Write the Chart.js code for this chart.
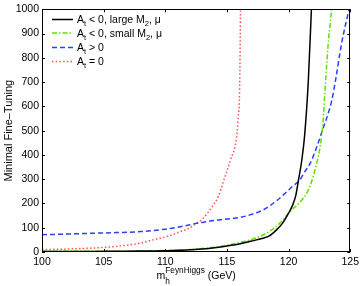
<!DOCTYPE html>
<html>
<head>
<meta charset="utf-8">
<script src="https://cdn.jsdelivr.net/npm/chart.js@4.4.1/dist/chart.umd.min.js"></script>
<style>
  html, body { margin: 0; padding: 0; background: #fff; }
  #wrap { width: 363px; height: 286px; }
</style>
</head>
<body>
<div id="wrap"><canvas id="ftChart" width="363" height="286"></canvas></div>
<script>
// values (GeV, fine-tuning)
var largeM2X = [100, 102, 104, 106, 108, 110, 111, 112, 113, 114, 115, 116, 117, 118, 118.4, 119, 119.5, 120, 120.3, 120.58, 120.8, 121.07, 121.3, 121.6, 121.85];
var largeM2Y = [2, 2, 2, 3, 4, 5, 7, 9, 12, 18, 25, 33, 45, 58, 65, 90, 118, 160, 190, 232, 296, 378, 480, 705, 1000];

var smallM2X = [100, 105, 110, 112, 114, 115, 116, 117, 118, 119, 119.5, 120, 120.5, 121, 121.5, 121.9, 122.3, 122.55, 122.8, 123.0, 123.25, 123.5];
var smallM2Y = [3, 3, 6, 10, 20, 28, 39, 52, 72, 105, 130, 160, 185, 210, 245, 296, 370, 432, 540, 705, 880, 1000];

var posAtX = [100, 102, 104, 106, 108, 110, 111, 112, 112.5, 113, 114, 115, 116, 117, 118, 119, 119.7, 120.3, 120.9, 121.3, 121.74, 122.28, 122.8, 123.2, 123.5, 123.8, 124.3, 124.9];
var posAtY = [71, 74, 77, 80, 84, 94, 102, 112, 118, 122, 130, 136, 142, 155, 175, 210, 241, 270, 296, 330, 364, 432, 510, 569, 624, 705, 860, 1000];

var zeroAtX = [100, 101, 102, 103, 104, 105, 106, 107, 108, 109, 110, 110.6, 111, 112, 112.5, 113, 113.8, 114.3, 114.75, 115.28, 115.74, 115.9, 116.04, 116.1];
var zeroAtY = [10, 11, 12, 14, 16, 19, 23, 29, 37, 50, 62, 71, 80, 100, 117, 135, 187, 228, 296, 378, 460, 541, 705, 1000];

var xTicks = [100, 105, 110, 115, 120, 125];
var yTicks = [0, 100, 200, 300, 400, 500, 600, 700, 800, 900, 1000];

// legend labels, pieces marked sub are subscripts
var legendLabels = [
  [['A'], ['t', 'sub'], [' < 0, large M'], ['2', 'sub'], [', \u03bc']],
  [['A'], ['t', 'sub'], [' < 0, small M'], ['2', 'sub'], [', \u03bc']],
  [['A'], ['t', 'sub'], [' > 0']],
  [['A'], ['t', 'sub'], [' = 0']]
];

function pts(xs, ys) {
  return xs.map(function (x, i) { return { x: x, y: ys[i] }; });
}

var FONT = '"Liberation Sans", Arial, Helvetica, sans-serif';

function drawRich(ctx, parts, x, y, size) {
  parts.forEach(function (p) {
    if (p[1] === 'sub') {
      ctx.font = (size * 0.72) + 'px ' + FONT;
      ctx.fillText(p[0], x, y + size * 0.3);
    } else {
      ctx.font = size + 'px ' + FONT;
      ctx.fillText(p[0], x, y);
    }
    x += ctx.measureText(p[0]).width;
  });
  return x;
}

var framePlugin = {
  id: 'frame',
  afterDatasetsDraw: function (chart) {
    var ctx = chart.ctx, a = chart.chartArea;
    var xs = chart.scales.x, ys = chart.scales.y;
    ctx.save();
    ctx.strokeStyle = '#000';
    ctx.lineWidth = 1;
    ctx.strokeRect(Math.round(a.left) + 0.5, Math.round(a.top) + 0.5,
      Math.round(a.right - a.left) - 1, Math.round(a.bottom - a.top) - 1);
    ctx.beginPath();
    xTicks.forEach(function (v) {
      var px = Math.round(xs.getPixelForValue(v)) + 0.5;
      ctx.moveTo(px, a.bottom); ctx.lineTo(px, a.bottom - 3);
      ctx.moveTo(px, a.top); ctx.lineTo(px, a.top + 3);
    });
    yTicks.forEach(function (v) {
      var py = Math.round(ys.getPixelForValue(v)) + 0.5;
      ctx.moveTo(a.left, py); ctx.lineTo(a.left + 3, py);
      ctx.moveTo(a.right, py); ctx.lineTo(a.right - 3, py);
    });
    ctx.stroke();

    // legend
    ctx.textBaseline = 'alphabetic';
    ctx.fillStyle = '#000';
    var rowY = [19.5, 33, 47.5, 61.5];
    chart.data.datasets.forEach(function (ds, i) {
      var y = rowY[i];
      ctx.save();
      ctx.strokeStyle = ds.borderColor;
      ctx.lineWidth = ds.borderWidth;
      ctx.setLineDash(ds.borderDash || []);
      ctx.beginPath();
      ctx.moveTo(52, y); ctx.lineTo(73, y);
      ctx.stroke();
      ctx.restore();
      drawRich(ctx, legendLabels[i], 77, y + 3.7, 10.5);
    });

    // axis titles
    ctx.font = '10.5px ' + FONT;
    var w = ctx.measureText('m').width;
    ctx.font = '8.3px ' + FONT;
    var w2 = ctx.measureText('FeynHiggs').width;
    ctx.font = '10.5px ' + FONT;
    var w3 = ctx.measureText(' (GeV)').width;
    var cx = (a.left + a.right) / 2;
    var x0 = cx - (w + w2 + w3) / 2;
    ctx.fillText('m', x0, 279);
    ctx.font = '8.3px ' + FONT;
    ctx.fillText('h', x0 + w, 284);
    ctx.fillText('FeynHiggs', x0 + w, 273);
    ctx.font = '10.5px ' + FONT;
    ctx.fillText(' (GeV)', x0 + w + w2, 279);

    ctx.save();
    ctx.translate(12, (a.top + a.bottom) / 2);
    ctx.rotate(-Math.PI / 2);
    ctx.textAlign = 'center';
    ctx.font = '11px ' + FONT;
    ctx.fillText('Minimal Fine\u2013Tuning', 0, 0);
    ctx.restore();
    ctx.restore();
  }
};

var ctx = document.getElementById('ftChart').getContext('2d');
var chart_ft = new Chart(ctx, {
  type: 'line',
  data: {
    datasets: [{
      data: pts(largeM2X, largeM2Y),
      borderColor: '#000000',
      borderWidth: 1.5,
      pointRadius: 0,
      fill: false
    }, {
      data: pts(smallM2X, smallM2Y),
      borderColor: '#5fe000',
      borderWidth: 1.5,
      borderDash: [5, 2, 1.5, 2],
      pointRadius: 0,
      fill: false
    }, {
      data: pts(posAtX, posAtY),
      borderColor: '#2a40ff',
      borderWidth: 1.5,
      borderDash: [5, 3],
      pointRadius: 0,
      fill: false
    }, {
      data: pts(zeroAtX, zeroAtY),
      borderColor: '#ff5050',
      borderWidth: 1.5,
      borderDash: [1.5, 2.2],
      pointRadius: 0,
      fill: false
    }]
  },
  options: {
    responsive: false,
    animation: false,
    events: [],
    elements: { line: { tension: 0.3, cubicInterpolationMode: 'monotone' } },
    layout: { padding: { left: 0, right: 11, top: 8, bottom: 0 } },
    plugins: { legend: { display: false }, tooltip: { enabled: false } },
    scales: {
      x: {
        type: 'linear',
        min: 100, max: 125,
        grid: { display: false, drawTicks: false },
        border: { display: false },
        afterFit: function (s) { s.height = 34; },
        afterBuildTicks: function (s) { s.ticks = xTicks.map(function (v) { return { value: v }; }); },
        ticks: {
          color: '#000', padding: 4, maxRotation: 0, font: { family: FONT, size: 10.5 },
          callback: function (v) { return String(v); }
        }
      },
      y: {
        type: 'linear',
        min: 0, max: 1000,
        grid: { display: false, drawTicks: false },
        border: { display: false },
        afterFit: function (s) { s.width = 42; },
        afterBuildTicks: function (s) { s.ticks = yTicks.map(function (v) { return { value: v }; }); },
        ticks: {
          color: '#000', padding: 3, font: { family: FONT, size: 10.5 },
          callback: function (v) { return String(v); }
        }
      }
    }
  },
  plugins: [framePlugin]
});
</script>
</body>
</html>
